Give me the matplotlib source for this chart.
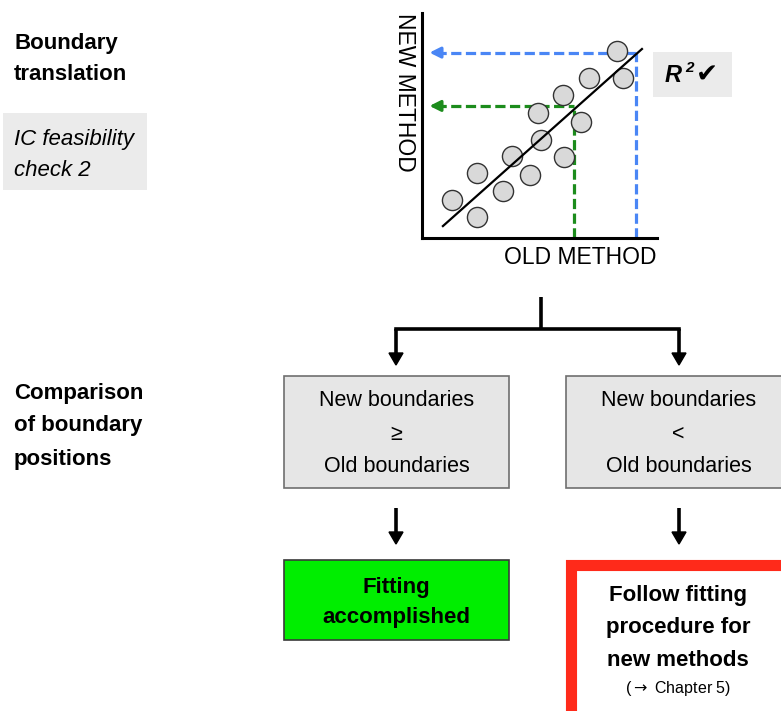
import matplotlib
matplotlib.use('Agg')
import matplotlib.pyplot as plt
from matplotlib.patches import Rectangle, Polygon

# scatter data (arbitrary units, old vs new method)
old_method = [1.26, 2.34, 2.34, 3.45, 3.83, 4.60, 5.06, 4.94, 6.04, 6.00, 6.77, 7.11, 8.55, 8.30]
new_method = [1.69, 0.93, 2.89, 2.09, 3.64, 2.80, 4.36, 5.56, 3.60, 6.36, 5.16, 7.11, 7.11, 8.31]
fit_x = [0.89, 9.36]
fit_y = [0.53, 8.40]
green_pt = (6.47, 5.87)
blue_pt = (9.10, 8.24)

# flowchart texts
section_titles = [['Boundary', 'translation'], ['Comparison', 'of boundary', 'positions']]
check_label = ['IC feasibility', 'check 2']
left_box = ['New boundaries', '\u2265', 'Old boundaries']
right_box = ['New boundaries', '<', 'Old boundaries']
ok_box = ['Fitting', 'accomplished']
fail_box = ['Follow fitting', 'procedure for', 'new methods']
fail_note = r'($\rightarrow$ Chapter 5)'

FONT = ['Liberation Sans', 'DejaVu Sans']
W, H = 781, 711

fig = plt.figure(figsize=(W / 100, H / 100), dpi=100)
ax = fig.add_axes([0, 0, 1, 1])
ax.set_xlim(0, W)
ax.set_ylim(H, 0)
ax.axis('off')


def txt(x, y, s, size=16, weight='normal', style='normal', ha='left', family=FONT, **kw):
    ax.text(x, y, s, fontsize=size, fontweight=weight, fontstyle=style, ha=ha,
            va='center', family=family, **kw)


def arrow_down(x, y0, y1):
    ax.plot([x, x], [y0, y1 - 10], color='black', lw=2.6, solid_capstyle='butt')
    ax.add_patch(Polygon([[x - 7, y1 - 12], [x + 7, y1 - 12], [x, y1]], color='black'))


def guide(a, pt, color):
    # dashed projection of a point onto both axes, arrow on the y axis
    a.plot([pt[0], pt[0]], [0, pt[1]], color=color, lw=2.3, dashes=(3.2, 1.4))
    a.plot([0.6, pt[0]], [pt[1], pt[1]], color=color, lw=2.3, dashes=(3.2, 1.4))
    a.annotate('', xy=(0.2, pt[1]), xytext=(0.9, pt[1]),
               arrowprops=dict(arrowstyle='-|>', color=color, lw=2.3, mutation_scale=16))


# left column labels
for i, s in enumerate(section_titles[0]):
    txt(14, 43 + 32 * i, s, weight='bold')
ax.add_patch(Rectangle((3, 113), 144, 77, facecolor='#ebebeb', edgecolor='none'))
for i, s in enumerate(check_label):
    txt(14, 139 + 32 * i, s, style='italic')
for i, s in enumerate(section_titles[1]):
    txt(14, 393 + 33 * i, s, weight='bold')

# scatter inset
sx = fig.add_axes([422 / W, 1 - 238 / H, 235 / W, 225 / H])
sx.set_xlim(0, 10)
sx.set_ylim(0, 10)
sx.patch.set_alpha(0)
for k in ['top', 'right']:
    sx.spines[k].set_visible(False)
for k in ['left', 'bottom']:
    sx.spines[k].set_linewidth(2.2)
sx.set_xticks([])
sx.set_yticks([])
guide(sx, blue_pt, '#4a86f5')
guide(sx, green_pt, '#1c8c1c')
sx.scatter(old_method, new_method, s=210, facecolor='#d9d9d9', edgecolor='#333333', lw=1, zorder=3)
sx.plot(fit_x, fit_y, color='black', lw=1.6, zorder=4)

txt(405, 92, 'NEW METHOD', size=16.5, ha='center', rotation=-90)
txt(657, 258, 'OLD METHOD', size=16.5, ha='right')

# R^2 tick box
ax.add_patch(Rectangle((653, 52), 79, 45, facecolor='#ebebeb', edgecolor='none'))
txt(665, 75, 'R', size=17, weight='bold', style='italic')
txt(685, 68, '2', size=11, weight='bold', style='italic')
txt(696, 76, '\u2714', size=19, family=['DejaVu Sans'])

# branching connector
ax.plot([541, 541], [297, 329], color='black', lw=2.6, solid_capstyle='butt')
ax.plot([396, 679], [329, 329], color='black', lw=2.6, solid_capstyle='projecting')
arrow_down(396, 329, 365)
arrow_down(679, 329, 365)

# comparison boxes
for x0, lines in [(284, left_box), (566, right_box)]:
    ax.add_patch(Rectangle((x0, 376), 225, 112, facecolor='#e6e6e6', edgecolor='#6f6f6f', lw=1.2))
    for i, s in enumerate(lines):
        txt(x0 + 112.5, 401 + 33 * i, s, size=15.5, ha='center')

arrow_down(396, 508, 544)
arrow_down(679, 508, 544)

# outcome boxes
ax.add_patch(Rectangle((284, 560), 225, 80, facecolor='#00ee00', edgecolor='#3a3a3a', lw=1.2))
for i, s in enumerate(ok_box):
    txt(396.5, 587 + 30 * i, s, size=16, weight='bold', ha='center')

ax.add_patch(Rectangle((571, 565), 225, 160, facecolor='white', edgecolor='#ff2a1a', lw=8))
for i, s in enumerate(fail_box):
    txt(678, 596 + 32 * i, s, size=16, weight='bold', ha='center')
txt(678, 689, fail_note, size=11.5, ha='center')

fig.savefig('out.png', dpi=100)
